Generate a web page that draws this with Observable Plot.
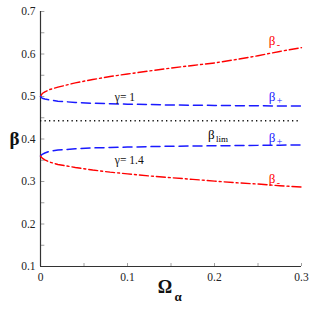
<!DOCTYPE html>
<html><head><meta charset="utf-8">
<script src="https://cdn.jsdelivr.net/npm/d3@7"></script>
<script src="https://cdn.jsdelivr.net/npm/@observablehq/plot@0.6"></script>
<style>body{margin:0;background:#fff} svg, svg text{font-family:'Liberation Serif',serif !important}</style>
</head><body><div id="chart"></div>
<script>
const omega = [0, 0.002, 0.005, 0.01, 0.02, 0.04, 0.06, 0.08, 0.1, 0.125, 0.15, 0.175, 0.2, 0.225, 0.25, 0.275, 0.3];
const betaMinusG1 = [0.5, 0.507, 0.511, 0.516, 0.522, 0.532, 0.540, 0.547, 0.553, 0.560, 0.567, 0.573, 0.579, 0.587, 0.596, 0.606, 0.615];
const betaPlusG1 = [0.5, 0.496, 0.494, 0.492, 0.489, 0.486, 0.484, 0.483, 0.482, 0.481, 0.480, 0.4795, 0.479, 0.4785, 0.478, 0.4778, 0.4775];
const betaPlusG14 = [0.36, 0.364, 0.367, 0.371, 0.374, 0.377, 0.379, 0.380, 0.381, 0.382, 0.383, 0.3835, 0.384, 0.3845, 0.385, 0.3855, 0.386];
const betaMinusG14 = [0.36, 0.355, 0.351, 0.346, 0.340, 0.333, 0.327, 0.322, 0.318, 0.313, 0.309, 0.305, 0.301, 0.297, 0.294, 0.290, 0.287];
const betaLim = 0.443;
const xTicks = [0, 0.1, 0.2, 0.3];
const xMinor = [0.05, 0.15, 0.25];
const yTicks = [0.1, 0.2, 0.3, 0.4, 0.5, 0.6, 0.7];
const yMinor = [0.15, 0.25, 0.35, 0.45, 0.55, 0.65];
const labels = [
  {x: 0.267, y: 0.632, main: "β", sub: "-", color: "#ff0000"},
  {x: 0.267, y: 0.499, main: "β", sub: "+", color: "#1a1aff"},
  {x: 0.267, y: 0.403, main: "β", sub: "+", color: "#1a1aff"},
  {x: 0.267, y: 0.306, main: "β", sub: "-", color: "#ff0000"},
  {x: 0.197, y: 0.409, main: "β", sub: "lim", color: "#000"}
];
const gammaLabels = [
  {x: 0.097, y: 0.499, text: "γ= 1"},
  {x: 0.102, y: 0.350, text: "γ= 1.4"}
];
const series = (ys) => omega.map((x, i) => ({x, y: ys[i]}));
const font = "'Liberation Serif', serif";

const plot = Plot.plot({
  width: 312, height: 312,
  marginLeft: 40, marginRight: 11, marginTop: 11, marginBottom: 46,
  style: {fontFamily: font, background: "#fff"},
  x: {domain: [0, 0.3]},
  y: {domain: [0.1, 0.7]},
  marks: [
    Plot.axisX({ticks: xTicks, tickSize: 0, tickPadding: 6, tickFormat: d => String(d), fontSize: 11.5, fontFamily: font, label: null, color: "#222"}),
    Plot.axisY({ticks: yTicks, tickSize: 0, tickPadding: 5, tickFormat: d => String(d), fontSize: 11.5, fontFamily: font, label: null, color: "#222"}),
    Plot.ruleY(yTicks.concat(yMinor), {y: d => d, x1: 0, x2: 0.005, stroke: "#888", strokeWidth: 0.8}),
    Plot.ruleX(xTicks.concat(xMinor), {x: d => d, y1: 0.1, y2: 0.107, stroke: "#888", strokeWidth: 0.8}),
    Plot.ruleX([0], {stroke: "#333", strokeWidth: 1.2}),
    Plot.ruleY([0.1], {stroke: "#333", strokeWidth: 1.2}),
    Plot.ruleY([betaLim], {stroke: "#111", strokeWidth: 1.3, strokeDasharray: "1.3,3.2"}),
    Plot.line(series(betaMinusG1), {x: "x", y: "y", stroke: "#ff0000", strokeWidth: 1.4, strokeDasharray: "9,3,2,3"}),
    Plot.line(series(betaPlusG1), {x: "x", y: "y", stroke: "#1a1aff", strokeWidth: 1.5, strokeDasharray: "9,5"}),
    Plot.line(series(betaPlusG14), {x: "x", y: "y", stroke: "#1a1aff", strokeWidth: 1.5, strokeDasharray: "9,5"}),
    Plot.line(series(betaMinusG14), {x: "x", y: "y", stroke: "#ff0000", strokeWidth: 1.4, strokeDasharray: "9,3,2,3"}),
    Plot.text(labels, {x: "x", y: "y", text: "main", fill: "color", fontSize: 13, fontFamily: font, textAnchor: "start", dx: -4}),
    Plot.text(labels, {x: "x", y: "y", text: "sub", fill: "color", fontFamily: font, fontSize: d => d.sub === "lim" ? 9 : 10, textAnchor: "start", dx: 4, dy: 4}),
    Plot.text(gammaLabels, {x: "x", y: "y", text: "text", fill: "#111", fontFamily: font, fontSize: 11.5}),
    Plot.text(["β"], {frameAnchor: "left", dx: -31, dy: 0, text: d => d, fontFamily: font, fontSize: 19, fontWeight: "bold", fill: "#111"}),
    Plot.text(["Ω"], {frameAnchor: "bottom", dx: -6, dy: 26, text: d => d, fontFamily: font, fontSize: 18, fontWeight: "bold", fill: "#111"}),
    Plot.text(["α"], {frameAnchor: "bottom", dx: 7, dy: 34, text: d => d, fontFamily: font, fontSize: 13, fontWeight: "bold", fill: "#111"})
  ]
});
document.getElementById("chart").appendChild(plot);
</script>
</body></html>
